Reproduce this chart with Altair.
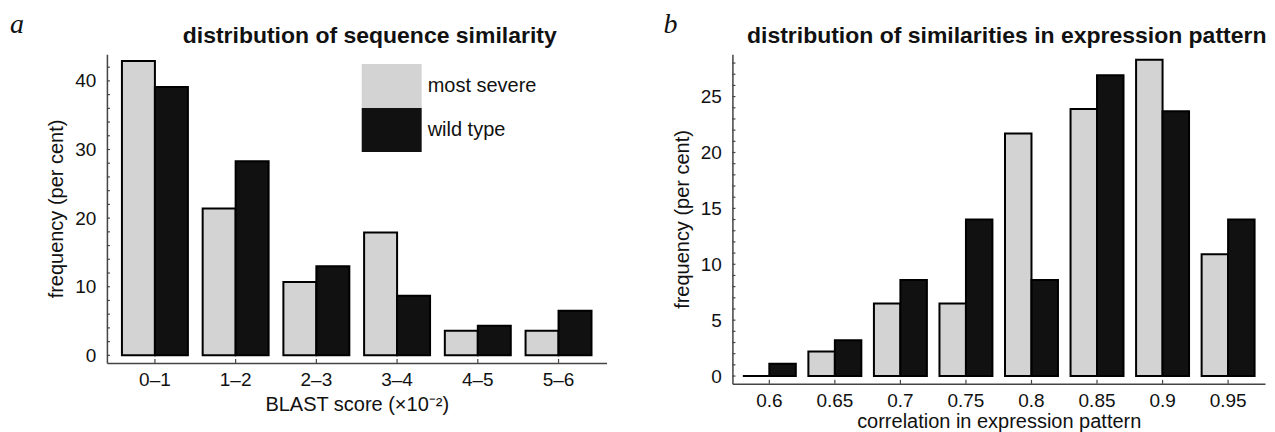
import altair as alt
import pandas as pd

# ---- data ----
a_categories = ["0–1", "1–2", "2–3", "3–4", "4–5", "5–6"]
a_most_severe = [42.9, 21.4, 10.7, 17.9, 3.6, 3.6]
a_wild_type = [39.1, 28.3, 13.0, 8.7, 4.3, 6.5]

b_categories = ["0.6", "0.65", "0.7", "0.75", "0.8", "0.85", "0.9", "0.95"]
b_most_severe = [0.0, 2.2, 6.5, 6.5, 21.7, 23.9, 28.3, 10.9]
b_wild_type = [1.1, 3.2, 8.6, 14.0, 8.6, 26.9, 23.7, 14.0]

series_names = ["most severe", "wild type"]
series_colors = ["#d3d3d3", "#111111"]

a_y_labels = [0, 10, 20, 30, 40]
a_y_ticks = list(range(0, 44, 2))
b_y_labels = [0, 5, 10, 15, 20, 25]
b_y_ticks = list(range(0, 29))

a_title = "distribution of sequence similarity"
b_title = "distribution of similarities in expression pattern"
a_xtitle = "BLAST score (×10⁻²)"
b_xtitle = "correlation in expression pattern"
y_title = "frequency (per cent)"
panel_letters = ["a", "b"]

SANS = "Liberation Sans"
AXIS_COLOR = "#444"


def to_long(cats, s1, s2):
    rows = []
    for c, v1, v2 in zip(cats, s1, s2):
        rows.append({"cat": c, "series": series_names[0], "value": v1})
        rows.append({"cat": c, "series": series_names[1], "value": v2})
    return pd.DataFrame(rows)


def panel(df, cats, width, height, ydomain, ylabels, yticks, xtitle, xtitle_pad, title,
          title_dx, letter, letter_x, letter_y, scale_kw, legend):
    xscale = alt.Scale(**scale_kw)
    yscale = alt.Scale(domain=ydomain, nice=False, zero=False)
    bars = alt.Chart(df).mark_bar(stroke="black", strokeWidth=2).encode(
        x=alt.X("cat:N", sort=cats, scale=xscale,
                axis=alt.Axis(title=xtitle, labelAngle=0, ticks=False, tickSize=0,
                              labelPadding=8, titlePadding=xtitle_pad)),
        xOffset=alt.XOffset("series:N", sort=series_names),
        y=alt.Y("value:Q", scale=yscale,
                axis=alt.Axis(title=y_title, values=ylabels, ticks=False, tickSize=0,
                              labelPadding=11, titlePadding=8)),
        color=alt.Color("series:N",
                        scale=alt.Scale(domain=series_names, range=series_colors),
                        legend=legend),
    )
    # inward-pointing axis ticks, placed through the scales
    ytick_layer = alt.Chart(pd.DataFrame({"value": yticks})).mark_rule(
        color=AXIS_COLOR, strokeWidth=1.2
    ).encode(y=alt.Y("value:Q"), x=alt.value(0), x2=alt.value(3))
    xtick_layer = alt.Chart(pd.DataFrame({"cat": cats})).mark_rule(
        color=AXIS_COLOR, strokeWidth=1.2
    ).encode(x=alt.X("cat:N", sort=cats), y=alt.value(height), y2=alt.value(height - 4))
    letter_df = pd.DataFrame({"t": [letter]})
    letter_layer = alt.Chart(letter_df).mark_text(
        font="Liberation Serif", fontStyle="italic", fontSize=28, align="left",
        baseline="alphabetic", color="#111"
    ).encode(text="t:N", x=alt.value(letter_x), y=alt.value(letter_y))
    return alt.layer(bars, ytick_layer, xtick_layer, letter_layer).properties(
        width=width, height=height,
        title=alt.TitleParams(title, anchor="middle", frame="group", dx=title_dx, offset=-37),
    )


legend_a = alt.Legend(
    title=None, orient="none", legendX=263, legendY=10,
    symbolType="M-1.364,-1L1.364,-1L1.364,1L-1.364,1Z", symbolSize=1936,
    symbolStrokeWidth=0, symbolOpacity=1, rowPadding=0, labelFontSize=20,
    labelOffset=14, labelFont=SANS, labelColor="#111",
)

chart_a = panel(to_long(a_categories, a_most_severe, a_wild_type), a_categories,
                500, 309, [-1.1, 43.9], a_y_labels, a_y_ticks, a_xtitle, 5, a_title,
                13, panel_letters[0], -97, -21,
                dict(paddingInner=0.183, paddingOuter=0.186), legend_a)

chart_b = panel(to_long(b_categories, b_most_severe, b_wild_type), b_categories,
                533, 330, [-0.7, 28.8], b_y_labels, b_y_ticks, b_xtitle, 1, b_title,
                8, panel_letters[1], -69, -21,
                dict(paddingInner=0.192, paddingOuter=0.159), None)

chart = alt.hconcat(chart_a, chart_b, spacing=126, bounds="flush").resolve_scale(
    color="independent", xOffset="independent"
).configure_view(stroke=None).configure_axis(
    grid=False, domainColor=AXIS_COLOR, domainWidth=1.5, tickColor=AXIS_COLOR,
    labelFont=SANS, labelFontSize=19, labelColor="#111",
    titleFont=SANS, titleFontSize=20, titleFontWeight="normal", titleColor="#111",
).configure_title(
    font=SANS, fontSize=23, fontWeight="bold", color="#111"
).properties(padding={"left": 2, "top": 3, "right": 0, "bottom": 0})

chart.save("out.html", embed_options={"renderer": "svg", "actions": False})
